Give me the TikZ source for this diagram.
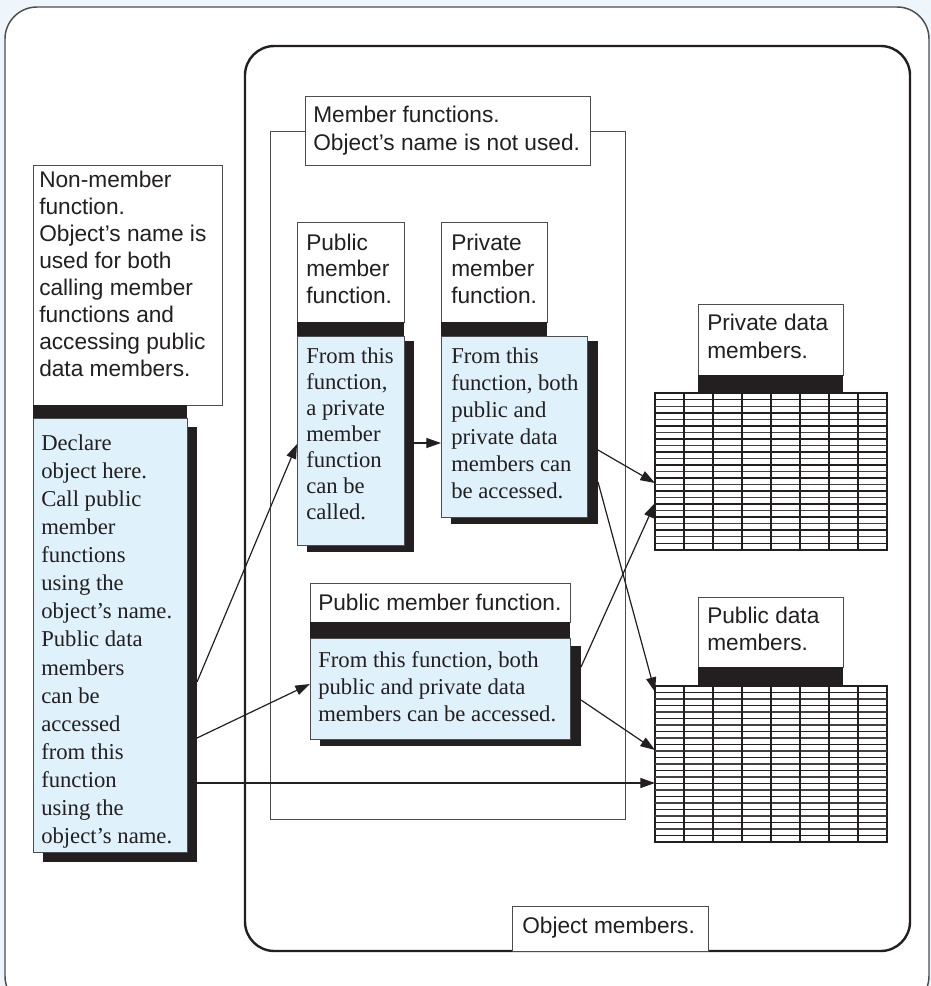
\documentclass[tikz,border=0pt]{standalone}
\usepackage{fontspec}
\setmainfont{Liberation Serif}
\setsansfont{Liberation Sans}
\usetikzlibrary{fit,arrows.meta}
\definecolor{pagebg}{HTML}{EEF6FC}
\definecolor{boxblue}{HTML}{DFF1FA}
\definecolor{ink}{HTML}{231F20}
\definecolor{rulegray}{HTML}{4D4D4D}
% a block of text whose first baseline is the node's base
\newcommand\txtlines[2]{\parbox[t]{12cm}{\raggedright\fontsize{17}{#1}\selectfont #2}}

\begin{document}
\begin{tikzpicture}[x=0.75pt,y=-0.75pt,
  area/.style={inner sep=0pt, outer sep=0pt},
  labelbox/.style={area, draw=rulegray, line width=0.75pt, fill=white},
  codebox/.style={area, draw=rulegray, line width=0.75pt, fill=boxblue},
  shadowbox/.style={area, fill=ink},
  bandbox/.style={area, fill=ink},
  sanstext/.style={anchor=base west, inner sep=0pt, font=\sffamily, text=ink},
  seriftext/.style={anchor=base west, inner sep=0pt, font=\rmfamily, text=ink},
  gridframe/.style={area, draw=ink, line width=1.1pt, fill=white},
  gridthick/.style={draw=ink, line width=1.35pt},
  gridthin/.style={draw=ink!85, line width=0.8pt},
  link/.style={draw=ink, line width=0.9pt, -{Triangle[length=11pt,width=7.5pt]}},
]
\useasboundingbox (0,0) rectangle (931,986);
\fill[pagebg] (0,0) rectangle (931,986);

% page and object frames
\node[fit={(5,7)(929,1008)}, area, draw=rulegray, line width=1.1pt, fill=white, rounded corners=24pt] (page) {};
\node[fit={(245,46)(910,951)}, area, draw=ink, line width=1.8pt, rounded corners=22pt] (objframe) {};
\node[fit={(270,131)(625,819)}, area, draw=rulegray, line width=0.75pt] (mfframe) {};
\node[fit={(305,96)(590,165)}, labelbox] (mflabel) {};
\node[fit={(512,906)(708,951)}, labelbox] (objlabel) {};

% non-member function
\node[fit={(43,427)(197,862)}, shadowbox] (declsh) {};
\node[fit={(33,165)(222,405)}, labelbox] (nmlabel) {};
\node[fit={(33,405)(187,418)}, bandbox] (nmband) {};
\node[fit={(33,418)(187,852)}, codebox] (decl) {};

% public member function (top)
\node[fit={(307,341)(414,552)}, shadowbox] (pubsh) {};
\node[fit={(297,222)(404,322)}, labelbox] (publabel) {};
\node[fit={(297,322)(404,336)}, bandbox] (pubband) {};
\node[fit={(297,336)(404,545)}, codebox] (pub) {};

% private member function
\node[fit={(451,341)(598,524)}, shadowbox] (privsh) {};
\node[fit={(441,222)(547,322)}, labelbox] (privlabel) {};
\node[fit={(441,322)(547,336)}, bandbox] (privband) {};
\node[fit={(441,336)(587,517)}, codebox] (priv) {};

% public member function (bottom)
\node[fit={(320,646)(581,746)}, shadowbox] (pub2sh) {};
\node[fit={(310,583)(570,622)}, labelbox] (pub2label) {};
\node[fit={(310,622)(570,638)}, bandbox] (pub2band) {};
\node[fit={(310,638)(570,739)}, codebox] (pub2) {};

% private data members
\node[fit={(698,304)(843,375)}, labelbox] (pdlabel) {};
\node[fit={(698,375)(843,393)}, bandbox] (pdband) {};
\node[fit={(655,393)(887,550)}, gridframe] (pdgrid) {};
\foreach \i in {1,3,...,23} \draw[gridthick] (655,{393+\i*157/24}) -- (887,{393+\i*157/24});
\foreach \i in {2,4,...,22} \draw[gridthin] (655,{393+\i*157/24}) -- (887,{393+\i*157/24});
\foreach \j in {1,...,7} \draw[gridthick] ({655+\j*29},393) -- ({655+\j*29},550);

% public data members
\node[fit={(698,597)(843,667)}, labelbox] (ubdlabel) {};
\node[fit={(698,667)(843,686)}, bandbox] (ubdband) {};
\node[fit={(655,686)(887,842)}, gridframe] (ubdgrid) {};
\foreach \i in {1,3,...,23} \draw[gridthick] (655,{686+\i*156/24}) -- (887,{686+\i*156/24});
\foreach \i in {2,4,...,22} \draw[gridthin] (655,{686+\i*156/24}) -- (887,{686+\i*156/24});
\foreach \j in {1,...,7} \draw[gridthick] ({655+\j*29},686) -- ({655+\j*29},842);

% texts
\node[sanstext] (mftext) at (313,122) {\txtlines{21}{Member functions.\\Object's name is not used.}};
\node[sanstext] (objtext) at (522,933) {\txtlines{21}{Object members.}};
\node[sanstext] (nmtext) at (39,187) {\txtlines{20.25}{Non-member\\function.\\Object's name is\\used for both\\calling member\\functions and\\accessing public\\data members.}};
\node[seriftext] (decltext) at (41,450) {\txtlines{21.1}{Declare\\object here.\\Call public\\member\\functions\\using the\\object's name.\\Public data\\members\\can be\\accessed\\from this\\function\\using the\\object's name.}};
\node[sanstext] (pubtitle) at (306,250) {\txtlines{19.9}{Public\\member\\function.}};
\node[seriftext] (pubtext) at (306,363) {\txtlines{19.5}{From this\\function,\\a private\\member\\function\\can be\\called.}};
\node[sanstext] (privtitle) at (451,250) {\txtlines{19.9}{Private\\member\\function.}};
\node[seriftext] (privtext) at (451,363) {\txtlines{20.25}{From this\\function, both\\public and\\private data\\members can\\be accessed.}};
\node[sanstext] (pub2title) at (318,610) {\txtlines{20}{Public member function.}};
\node[seriftext] (pub2text) at (318,667) {\txtlines{20.6}{From this function, both\\public and private data\\members can be accessed.}};
\node[sanstext] (pdtext) at (707,330) {\txtlines{21}{Private data\\members.}};
\node[sanstext] (ubdtext) at (707,623) {\txtlines{20.25}{Public data\\members.}};

% connector end points on the box edges
\coordinate (a1s) at (197,682);  \coordinate (a1e) at (297,444);
\coordinate (a2s) at (197,738);  \coordinate (a2e) at (310,684);
\coordinate (a3s) at (197,783);  \coordinate (a3e) at (655,783);
\coordinate (a4s) at (414,443);  \coordinate (a4e) at (441,443);
\coordinate (a5s) at (598,450);  \coordinate (a5e) at (655,483);
\coordinate (a6s) at (598,482);  \coordinate (a6e) at (655,692);
\coordinate (a7s) at (581,667);  \coordinate (a7e) at (655,503);
\coordinate (a8s) at (581,700);  \coordinate (a8e) at (655,750);

\draw[link] (a1s) -- (a1e);
\draw[link] (a2s) -- (a2e);
\draw[link] (a3s) -- (a3e);
\draw[link] (a4s) -- (a4e);
\draw[link] (a5s) -- (a5e);
\draw[link] (a6s) -- (a6e);
\draw[link] (a7s) -- (a7e);
\draw[link] (a8s) -- (a8e);
\end{tikzpicture}
\end{document}
